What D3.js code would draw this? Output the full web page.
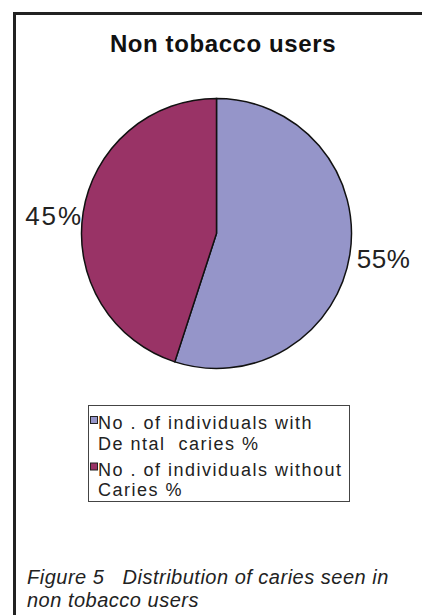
<!DOCTYPE html>
<html lang="en">
<head>
    <meta charset="UTF-8">
    <title>Non tobacco users</title>
    <style>
        body { margin: 0; background: #fff; }
        text { font-family: "Liberation Sans", Arial, sans-serif; }
    </style>
</head>
<body>
<script src="https://d3js.org/d3.v7.min.js"></script>
<script>
    // data
    var categories = ["No. of individuals with Dental caries %", "No. of individuals without Caries %"];
    var legendLines = [["No . of individuals with", "De ntal  caries %"], ["No . of individuals without", "Caries %"]];
    var values = [55, 45];
    var labels = ["55%", "45%"];
    var colors = ["#9595C9", "#993366"];

    var width = 422, height = 615;

    var svg = d3.select("body")
        .append("svg")
        .attr("width", width)
        .attr("height", height);

    // outer frame (runs off the right and bottom)
    svg.append("rect")
        .attr("x", 14.5)
        .attr("y", 13.5)
        .attr("width", 440)
        .attr("height", 640)
        .style("fill", "none")
        .style("stroke", "#222")
        .style("stroke-width", 3);

    svg.append("text")
        .attr("x", 223)
        .attr("y", 52)
        .attr("text-anchor", "middle")
        .attr("font-size", "24px")
        .attr("font-weight", "bold")
        .attr("letter-spacing", "0.6px")
        .attr("fill", "#111")
        .text("Non tobacco users");

    var cx = 216.5, cy = 233.5, r = 135;

    var pie = d3.pie().sort(null).value(function (d) { return d; });
    var arcs = pie(values);
    var arc = d3.arc().innerRadius(0).outerRadius(r);

    var g = svg.append("g")
        .attr("transform", "translate(" + cx + "," + cy + ")");

    // labels first, the pie sits on top of them
    g.selectAll("text.lbl")
        .data(arcs)
        .enter()
        .append("text")
        .attr("class", "lbl")
        .attr("x", function (d) {
            var a = (d.startAngle + d.endAngle) / 2;
            return Math.sin(a) > 0 ? Math.sin(a) * r + 7 : Math.sin(a) * r;
        })
        .attr("y", function (d) {
            var a = (d.startAngle + d.endAngle) / 2;
            return -Math.cos(a) * r + 13;
        })
        .attr("text-anchor", function (d) {
            var a = (d.startAngle + d.endAngle) / 2;
            return Math.sin(a) > 0 ? "start" : "end";
        })
        .attr("font-size", "26px")
        .attr("letter-spacing", function (d) {
            var a = (d.startAngle + d.endAngle) / 2;
            return Math.sin(a) > 0 ? "0.5px" : "2px";
        })
        .attr("fill", "#222")
        .text(function (d, i) { return labels[i]; });

    g.selectAll("path")
        .data(arcs)
        .enter()
        .append("path")
        .attr("d", arc)
        .style("fill", function (d, i) { return colors[i]; })
        .style("stroke", "#111")
        .style("stroke-width", 1.5);

    // legend
    svg.append("rect")
        .attr("x", 88.5)
        .attr("y", 405.5)
        .attr("width", 261)
        .attr("height", 96)
        .style("fill", "#fff")
        .style("stroke", "#444")
        .style("stroke-width", 1);

    var leg = svg.selectAll("g.leg")
        .data(categories)
        .enter()
        .append("g")
        .attr("class", "leg")
        .attr("transform", function (d, i) { return "translate(90," + (429 + i * 46.5) + ")"; });

    leg.append("rect")
        .attr("x", 0.5)
        .attr("y", -12.5)
        .attr("width", 7)
        .attr("height", 7)
        .style("fill", function (d, i) { return colors[i]; })
        .style("stroke", "#222")
        .style("stroke-width", 1);

    leg.each(function (d, i) {
        d3.select(this).selectAll("text")
            .data(legendLines[i])
            .enter()
            .append("text")
            .attr("x", 8)
            .attr("y", function (t, j) { return j * 20.5; })
            .attr("font-size", "18px")
            .attr("letter-spacing", "1.5px")
            .attr("fill", "#222")
            .style("white-space", "pre")
            .text(function (t) { return t; });
    });

    // caption
    var caption = ["Figure 5   Distribution of caries seen in", "non tobacco users"];
    svg.selectAll("text.cap")
        .data(caption)
        .enter()
        .append("text")
        .attr("class", "cap")
        .attr("x", 27)
        .attr("y", function (d, i) { return 584 + i * 23; })
        .attr("font-size", "20px")
        .attr("font-style", "italic")
        .attr("letter-spacing", "0.5px")
        .attr("fill", "#222")
        .style("white-space", "pre")
        .text(function (d) { return d; });
</script>
</body>
</html>
